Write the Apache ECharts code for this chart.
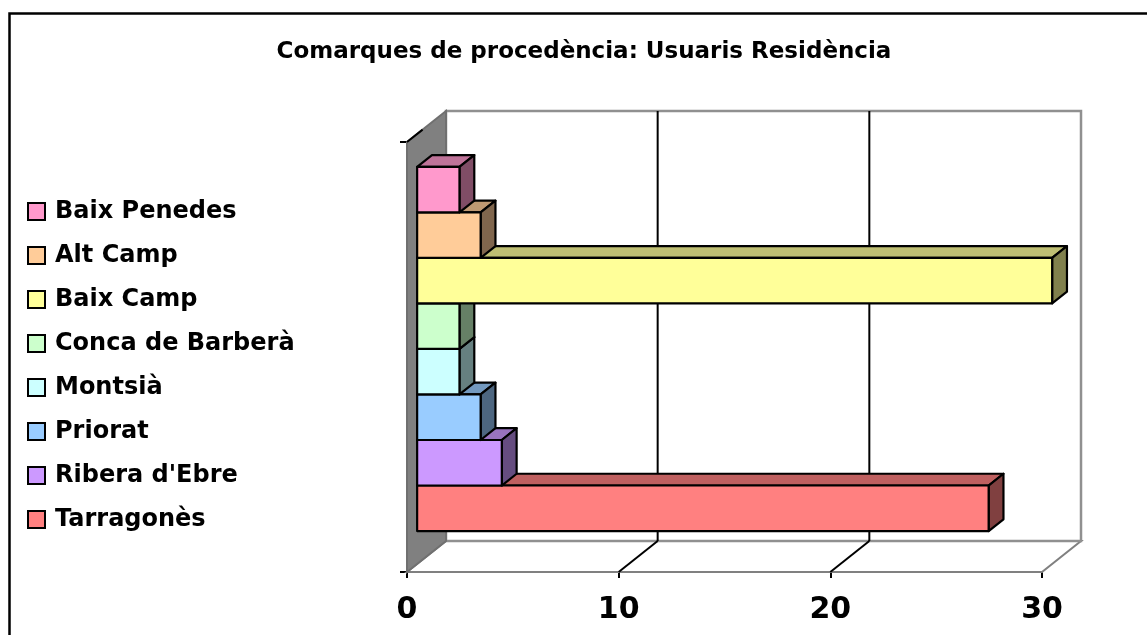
<!DOCTYPE html>
<html>
<head>
<meta charset="utf-8">
<script src="https://cdn.jsdelivr.net/npm/echarts@6/dist/echarts.min.js"></script>
<style>
  html, body { margin: 0; padding: 0; background: #fff; }
  #main { width: 1147px; height: 635px; }
</style>
</head>
<body>
<div id="main"></div>
<script>
// one category, one series per comarca (bottom to top, as Excel draws them)
var comarques = ["Tarragonès", "Ribera d'Ebre", "Priorat", "Montsià",
  "Conca de Barberà", "Baix Camp", "Alt Camp", "Baix Penedes"];
var usuaris = [27, 4, 3, 2, 2, 30, 3, 2];
var colors = ["#FF8080", "#CC99FF", "#99CCFF", "#CCFFFF",
  "#CCFFCC", "#FFFF99", "#FFCC99", "#FF99CC"];
var xTicks = [0, 10, 20, 30];

// 3d look: depth vector of the plot box and where the bars sit in it
var DEPTH = [39, -31];
var BAR_FRONT = 0.26;
var BAR_BACK = 0.64;
var GAP = 0.153;
var FONT = "DejaVu Sans";

var myChart = echarts.init(document.getElementById("main"));

// darken a #rrggbb colour (k = 0.75 -> top face, 0.5 -> side face)
function shade(hex, k) {
  var rgb = echarts.color.parse(hex);
  return "rgb(" + Math.round(rgb[0] * k) + "," + Math.round(rgb[1] * k) + "," + Math.round(rgb[2] * k) + ")";
}

function wallsItem(params, api) {
  var cs = params.coordSys;
  var dx = DEPTH[0], dy = DEPTH[1];
  var x0 = cs.x, x1 = cs.x + cs.width, y0 = cs.y, y1 = cs.y + cs.height;
  var children = [];
  // floor
  children.push({
    type: "polygon",
    shape: { points: [[x0, y1], [x0 + dx, y1 + dy], [x1 + dx, y1 + dy], [x1, y1]] },
    style: { fill: "#fff", stroke: "#808080", lineWidth: 2 }
  });
  // back wall
  children.push({
    type: "polygon",
    shape: { points: [[x0 + dx, y0 + dy], [x1 + dx, y0 + dy], [x1 + dx, y1 + dy], [x0 + dx, y1 + dy]] },
    style: { fill: "#fff", stroke: "#909090", lineWidth: 2.5 }
  });
  // grid lines on back wall and floor
  xTicks.forEach(function (v) {
    if (v === 0 || v === xTicks[xTicks.length - 1]) return;
    var px = api.coord([v, 0])[0];
    children.push({
      type: "line",
      shape: { x1: px + dx, y1: y0 + dy, x2: px + dx, y2: y1 + dy },
      style: { stroke: "#000", lineWidth: 2 }
    });
    children.push({
      type: "line",
      shape: { x1: px, y1: y1, x2: px + dx, y2: y1 + dy },
      style: { stroke: "#000", lineWidth: 2 }
    });
  });
  // left wall
  children.push({
    type: "polygon",
    shape: { points: [[x0, y0], [x0 + dx, y0 + dy], [x0 + dx, y1 + dy], [x0, y1]] },
    style: { fill: "#808080", stroke: "#707070", lineWidth: 2 }
  });
  children.push({
    type: "line",
    shape: { x1: x0, y1: y0, x2: x0 + dx * 0.4, y2: y0 + dy * 0.4 },
    style: { stroke: "#000", lineWidth: 2 }
  });
  return { type: "group", children: children };
}

function barItem(i) {
  return function (params, api) {
    var start = api.coord([0, 0]);
    var end = api.coord([api.value(0), 0]);
    var band = api.size([0, 1])[1];
    var total = band * (1 - GAP);
    var h = total / comarques.length;
    var yb = start[1] + total / 2 - i * h;
    var yt = yb - h;
    var fx = DEPTH[0] * BAR_FRONT, fy = DEPTH[1] * BAR_FRONT;
    var ddx = DEPTH[0] * (BAR_BACK - BAR_FRONT), ddy = DEPTH[1] * (BAR_BACK - BAR_FRONT);
    var x0 = start[0] + fx, x1 = end[0] + fx;
    yt += fy; yb += fy;
    var c = colors[i];
    var line = { stroke: "#000", lineWidth: 2.2, lineJoin: "round" };
    return {
      type: "group",
      children: [
        {
          type: "polygon",
          shape: { points: [[x0, yt], [x0 + ddx, yt + ddy], [x1 + ddx, yt + ddy], [x1, yt]] },
          style: Object.assign({ fill: shade(c, 0.75) }, line)
        },
        {
          type: "polygon",
          shape: { points: [[x1, yt], [x1 + ddx, yt + ddy], [x1 + ddx, yb + ddy], [x1, yb]] },
          style: Object.assign({ fill: shade(c, 0.5) }, line)
        },
        {
          type: "rect",
          shape: { x: x0, y: yt, width: x1 - x0, height: yb - yt },
          style: Object.assign({ fill: c }, line)
        }
      ]
    };
  };
}

var series = [{
  type: "custom",
  name: "walls",
  z: 1,
  silent: true,
  renderItem: wallsItem,
  encode: { x: 0, y: 1 },
  data: [[0, 0]]
}];
comarques.forEach(function (name, i) {
  series.push({
    type: "custom",
    name: name,
    z: 2,
    itemStyle: { color: colors[i] },
    renderItem: barItem(i),
    encode: { x: 0, y: 1 },
    data: [[usuaris[i], 0]]
  });
});

var option = {
  animation: false,
  backgroundColor: "#fff",
  title: {
    text: "Comarques de procedència: Usuaris Residència",
    left: 579,
    textAlign: "center",
    top: 36,
    textStyle: { fontFamily: FONT, fontSize: 23, fontWeight: "bold", color: "#000" }
  },
  legend: {
    orient: "vertical",
    left: 22,
    top: 194,
    icon: "rect",
    itemWidth: 17,
    itemHeight: 17,
    itemGap: 19,
    selectedMode: false,
    data: comarques.slice().reverse(),
    itemStyle: { borderColor: "#000", borderWidth: 2 },
    textStyle: {
      fontFamily: FONT, fontSize: 24, fontWeight: "bold", color: "#000",
      lineHeight: 25, padding: [0, 0, 0, 5]
    }
  },
  grid: { left: 407, top: 142, width: 635, height: 430 },
  xAxis: {
    type: "value",
    min: 0,
    max: 30,
    interval: 10,
    axisLine: { show: true, lineStyle: { color: "#000", width: 2 } },
    axisTick: { show: true, length: 6, lineStyle: { color: "#000", width: 2 } },
    splitLine: { show: false },
    axisLabel: {
      margin: 23,
      fontFamily: FONT, fontSize: 30, fontWeight: "bold", color: "#000"
    }
  },
  yAxis: {
    type: "category",
    data: [""],
    axisLine: { show: true, lineStyle: { color: "#000", width: 2 } },
    axisTick: { show: true, length: 7, lineStyle: { color: "#000", width: 2 } },
    axisLabel: { show: false },
    splitLine: { show: false }
  },
  graphic: [{
    type: "rect",
    left: 7, top: 11,
    shape: { width: 1139, height: 640 },
    style: { fill: null, stroke: "#000", lineWidth: 2.5 },
    z: 10
  }],
  series: series
};
myChart.setOption(option);
</script>
</body>
</html>
